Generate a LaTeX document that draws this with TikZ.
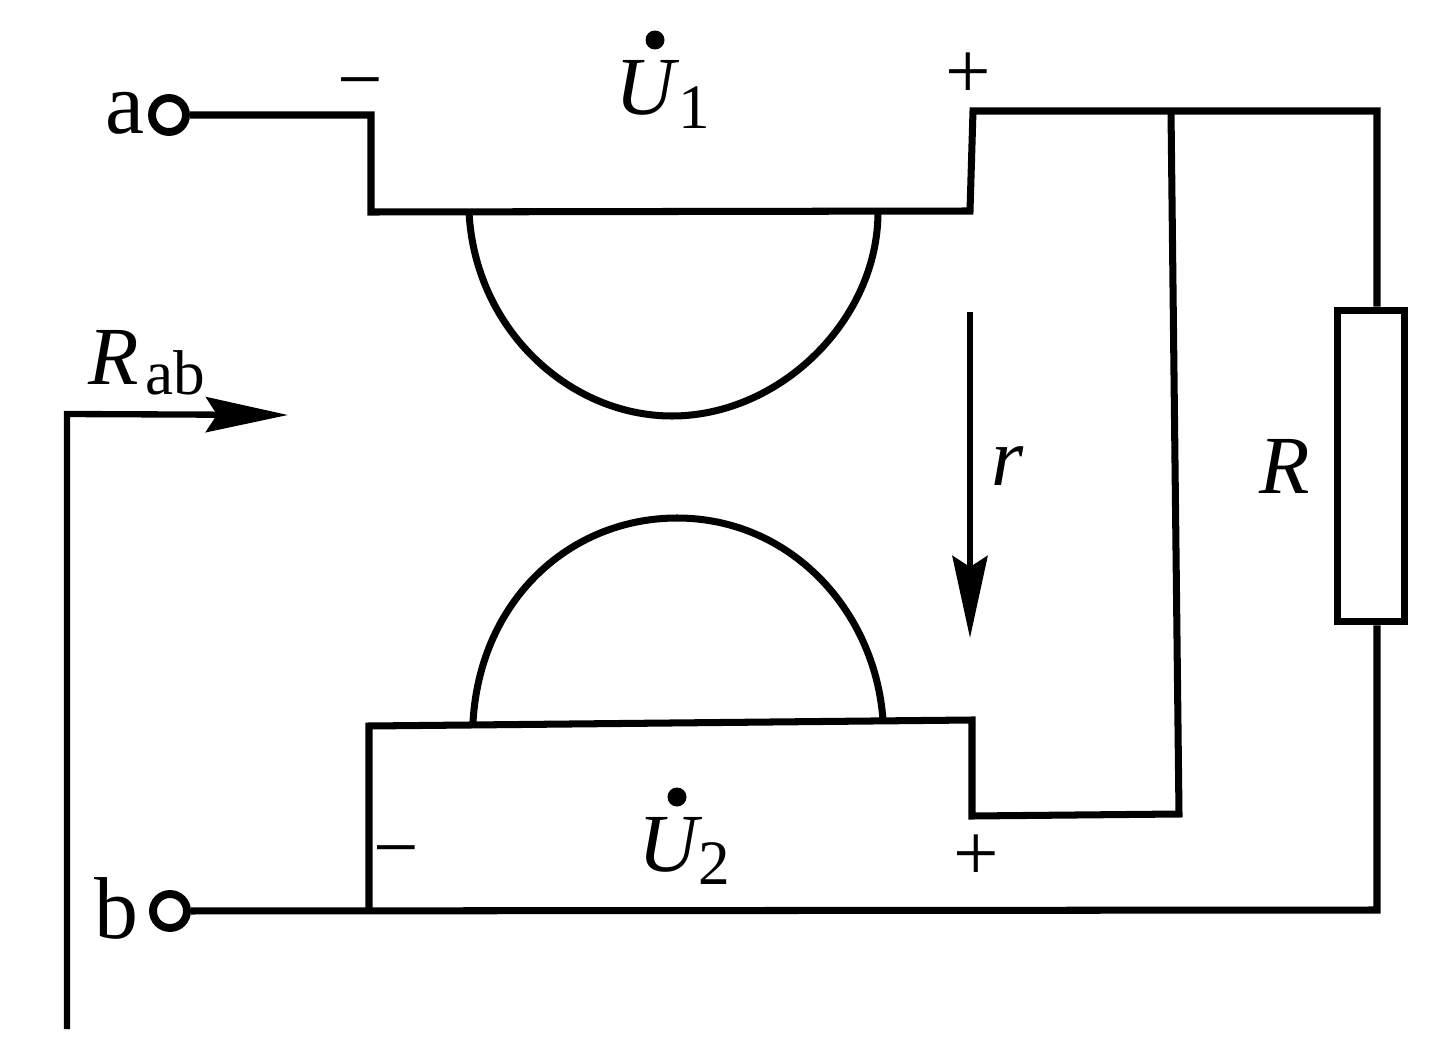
\documentclass[tikz,border=0pt]{standalone}
\usepackage{fontspec}
\setmainfont{Liberation Serif}
\usetikzlibrary{arrows.meta}
\tikzset{
	wire/.style={line width=4pt,line join=miter},
	terminal/.style={circle,draw,fill=white,line width=4.5pt,minimum size=0.68cm,inner sep=0pt},
	lab/.style={inner sep=0pt,font=\fontsize{50}{52}\selectfont},
	symb/.style={inner sep=0pt,font=\fontsize{46}{48}\selectfont},
	ital/.style={inner sep=0pt,font=\fontsize{47}{49}\selectfont\itshape},
	sublab/.style={inner sep=0pt,font=\fontsize{36}{38}\selectfont},
	dotmark/.style={circle,fill=black,minimum size=0.38cm,inner sep=0pt},
	resistor/.style={rectangle,draw,fill=white,line width=4pt,minimum width=1.34cm,minimum height=6.24cm,inner sep=0pt},
	flow/.style={-{Stealth[length=1.64cm,width=0.7cm,inset=0.22cm]},line width=3.6pt}
}
\begin{document}
\begin{tikzpicture}[x=0.02cm,y=-0.02cm]
	\useasboundingbox[fill=white] (0,0) rectangle (1441,1061);

	\node[terminal] (ta) at (169,115) {};
	\node[terminal] (tb) at (170,911) {};
	\node[lab] (la) at (125,113) {a};
	\node[lab] (lb) at (116,908) {b};

	\coordinate (p1) at (371,115);
	\coordinate (p2) at (371,212);
	\coordinate (p3) at (970,211);
	\coordinate (p4) at (973,111);
	\coordinate (top) at (1171,111);
	\coordinate (tr) at (1377,111);
	\coordinate (q1) at (369,911);
	\coordinate (q2) at (369,726);
	\coordinate (q3) at (972,720);
	\coordinate (q4) at (972,816);
	\coordinate (q5) at (1179,814);
	\coordinate (br) at (1377,910);

	\node[resistor] (res) at (1371,466) {};
	\draw[wire] (ta) -- (p1) -- (p2) -- (p3) -- (p4) -- (tr) -- (res.north -| tr);
	\draw[wire] (top) -- (q5) -- (q4) -- (q3) -- (q2) -- (q1);
	\draw[wire] (tb) -- (br) -- (res.south -| br);

	% the two arcs
	\coordinate (a1) at (469,212);
	\coordinate (a2) at (878,212);
	\coordinate (b1) at (473,722);
	\coordinate (b2) at (883,720);
	\draw[wire] (a1) .. controls (475,330) and (570,416) .. (672,416) .. controls (780,416) and (878,320) .. (a2);
	\draw[wire] (b1) .. controls (480,600) and (570,518) .. (677,518) .. controls (790,518) and (875,610) .. (b2);

	% labels
	\node[symb] (mina) at (360,92) {−};
	\node[symb] (plusa) at (968,76) {+};
	\node[symb] (minb) at (396,860) {−};
	\node[symb] (plusb) at (976,858) {+};
	\node[dotmark] (dota) at (655,40) {};
	\node[dotmark] (dotb) at (677,797) {};
	\node[ital] (ua) at (645,88) {U};
	\node[sublab] (ua1) at (694,108) {1};
	\node[ital] (ub) at (668,845) {U};
	\node[sublab] (ub2) at (714,864) {2};
	\node[ital] (rab) at (114,357) {R};
	\node[sublab] (rabs) at (175,373) {ab};
	\node[ital] (rr) at (1008,466) {r};
	\node[ital] (rres) at (1285,466) {R};

	% arrows
	\coordinate (s1) at (67,1029);
	\coordinate (s2) at (67,414);
	\coordinate (s3) at (288,415);
	\coordinate (r1) at (970,312);
	\coordinate (r2) at (970,638);
	\draw[flow] (s1) -- (s2) -- (s3);
	\draw[flow] (r1) -- (r2);
\end{tikzpicture}
\end{document}
